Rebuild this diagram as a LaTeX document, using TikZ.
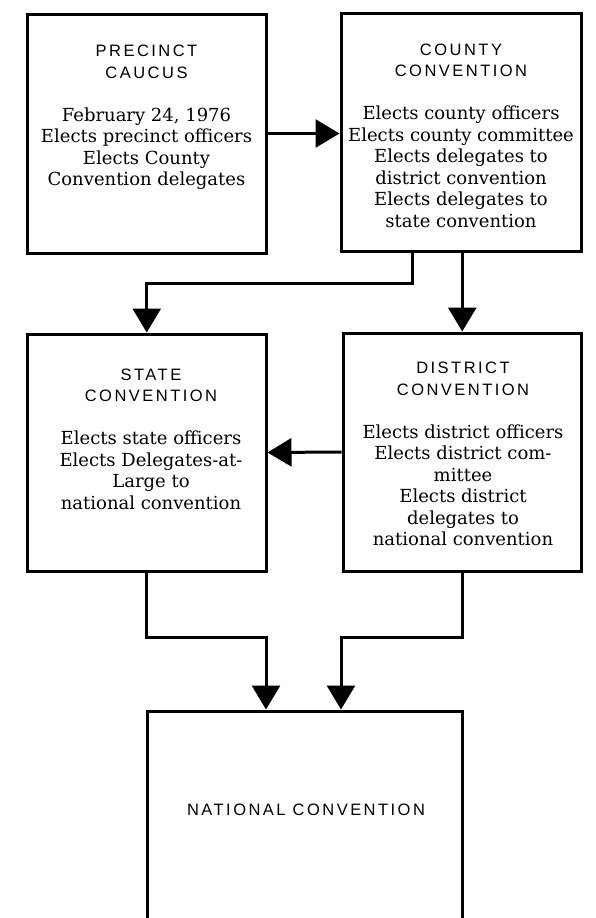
\documentclass[tikz,border=0pt]{standalone}
\usepackage{fontspec}
\setmainfont{DejaVu Serif}
\newfontfamily\hdrfont[LetterSpace=15]{Liberation Sans}
\usetikzlibrary{arrows.meta}
\newcommand\bodyf{\fontsize{18}{21.5}\selectfont}
\newcommand\hd[1]{{\hdrfont\fontsize{16.5}{21.5}\selectfont #1}}
\tikzset{
  box/.style={draw, line width=3pt, rectangle, inner sep=0pt},
  lbl/.style={align=center, font=\bodyf, inner sep=0pt},
  arr/.style={line width=3pt, -{Triangle[width=28pt,length=24pt]}},
}
\begin{document}
\begin{tikzpicture}[x=1pt,y=-1pt]
\useasboundingbox (0,0) rectangle (596,918);
\clip (0,0) rectangle (596,918);
% boxes
\node[box, minimum width=239pt, minimum height=239pt] (P) at (146.5,133.5) {};
\node[box, minimum width=240pt, minimum height=238pt] (C) at (461,132) {};
\node[box, minimum width=238.5pt, minimum height=237pt] (S) at (146.75,452.5) {};
\node[box, minimum width=238.5pt, minimum height=238pt] (D) at (462.25,452) {};
\node[box, minimum width=315pt, minimum height=260pt] (N) at (304.5,841) {};
% texts
\node[lbl] (Pt) at (146.5,117.5) {\hd{PRECINCT}\\\hd{CAUCUS}\\[21.5pt]February 24, 1976\\Elects precinct officers\\Elects County\\Convention delegates};
\node[lbl] (Ct) at (461,135.5) {\hd{COUNTY}\\\hd{CONVENTION}\\[21.5pt]Elects county officers\\Elects county committee\\Elects delegates to\\district convention\\Elects delegates to\\state convention};
\node[lbl] (St) at (151,439) {\hd{STATE}\\\hd{CONVENTION}\\[21.5pt]Elects state officers\\Elects Delegates-at-\\Large to\\national convention};
\node[lbl] (Dt) at (463,454) {\hd{DISTRICT}\\\hd{CONVENTION}\\[21.5pt]Elects district officers\\Elects district com-\\mittee\\Elects district\\delegates to\\national convention};
\node[lbl] (Nt) at (306,810) {\hd{NATIONAL CONVENTION}};
% junction coordinates
\coordinate (cl) at (412,283);
\coordinate (nl) at (266,637);
\coordinate (nr) at (341,637);
% connectors
\draw[arr] (P.east) -- (P.east -| C.west);
\draw[arr] (C.south -| cl) -- (cl) -| (S.north);
\draw[arr] (D.north |- C.south) -- (D.north);
\draw[arr] (D.west) -- (S.east);
\draw[arr] (S.south) |- (nl) -- (nl |- N.north);
\draw[arr] (D.south) |- (nr) -- (nr |- N.north);
\end{tikzpicture}
\end{document}
